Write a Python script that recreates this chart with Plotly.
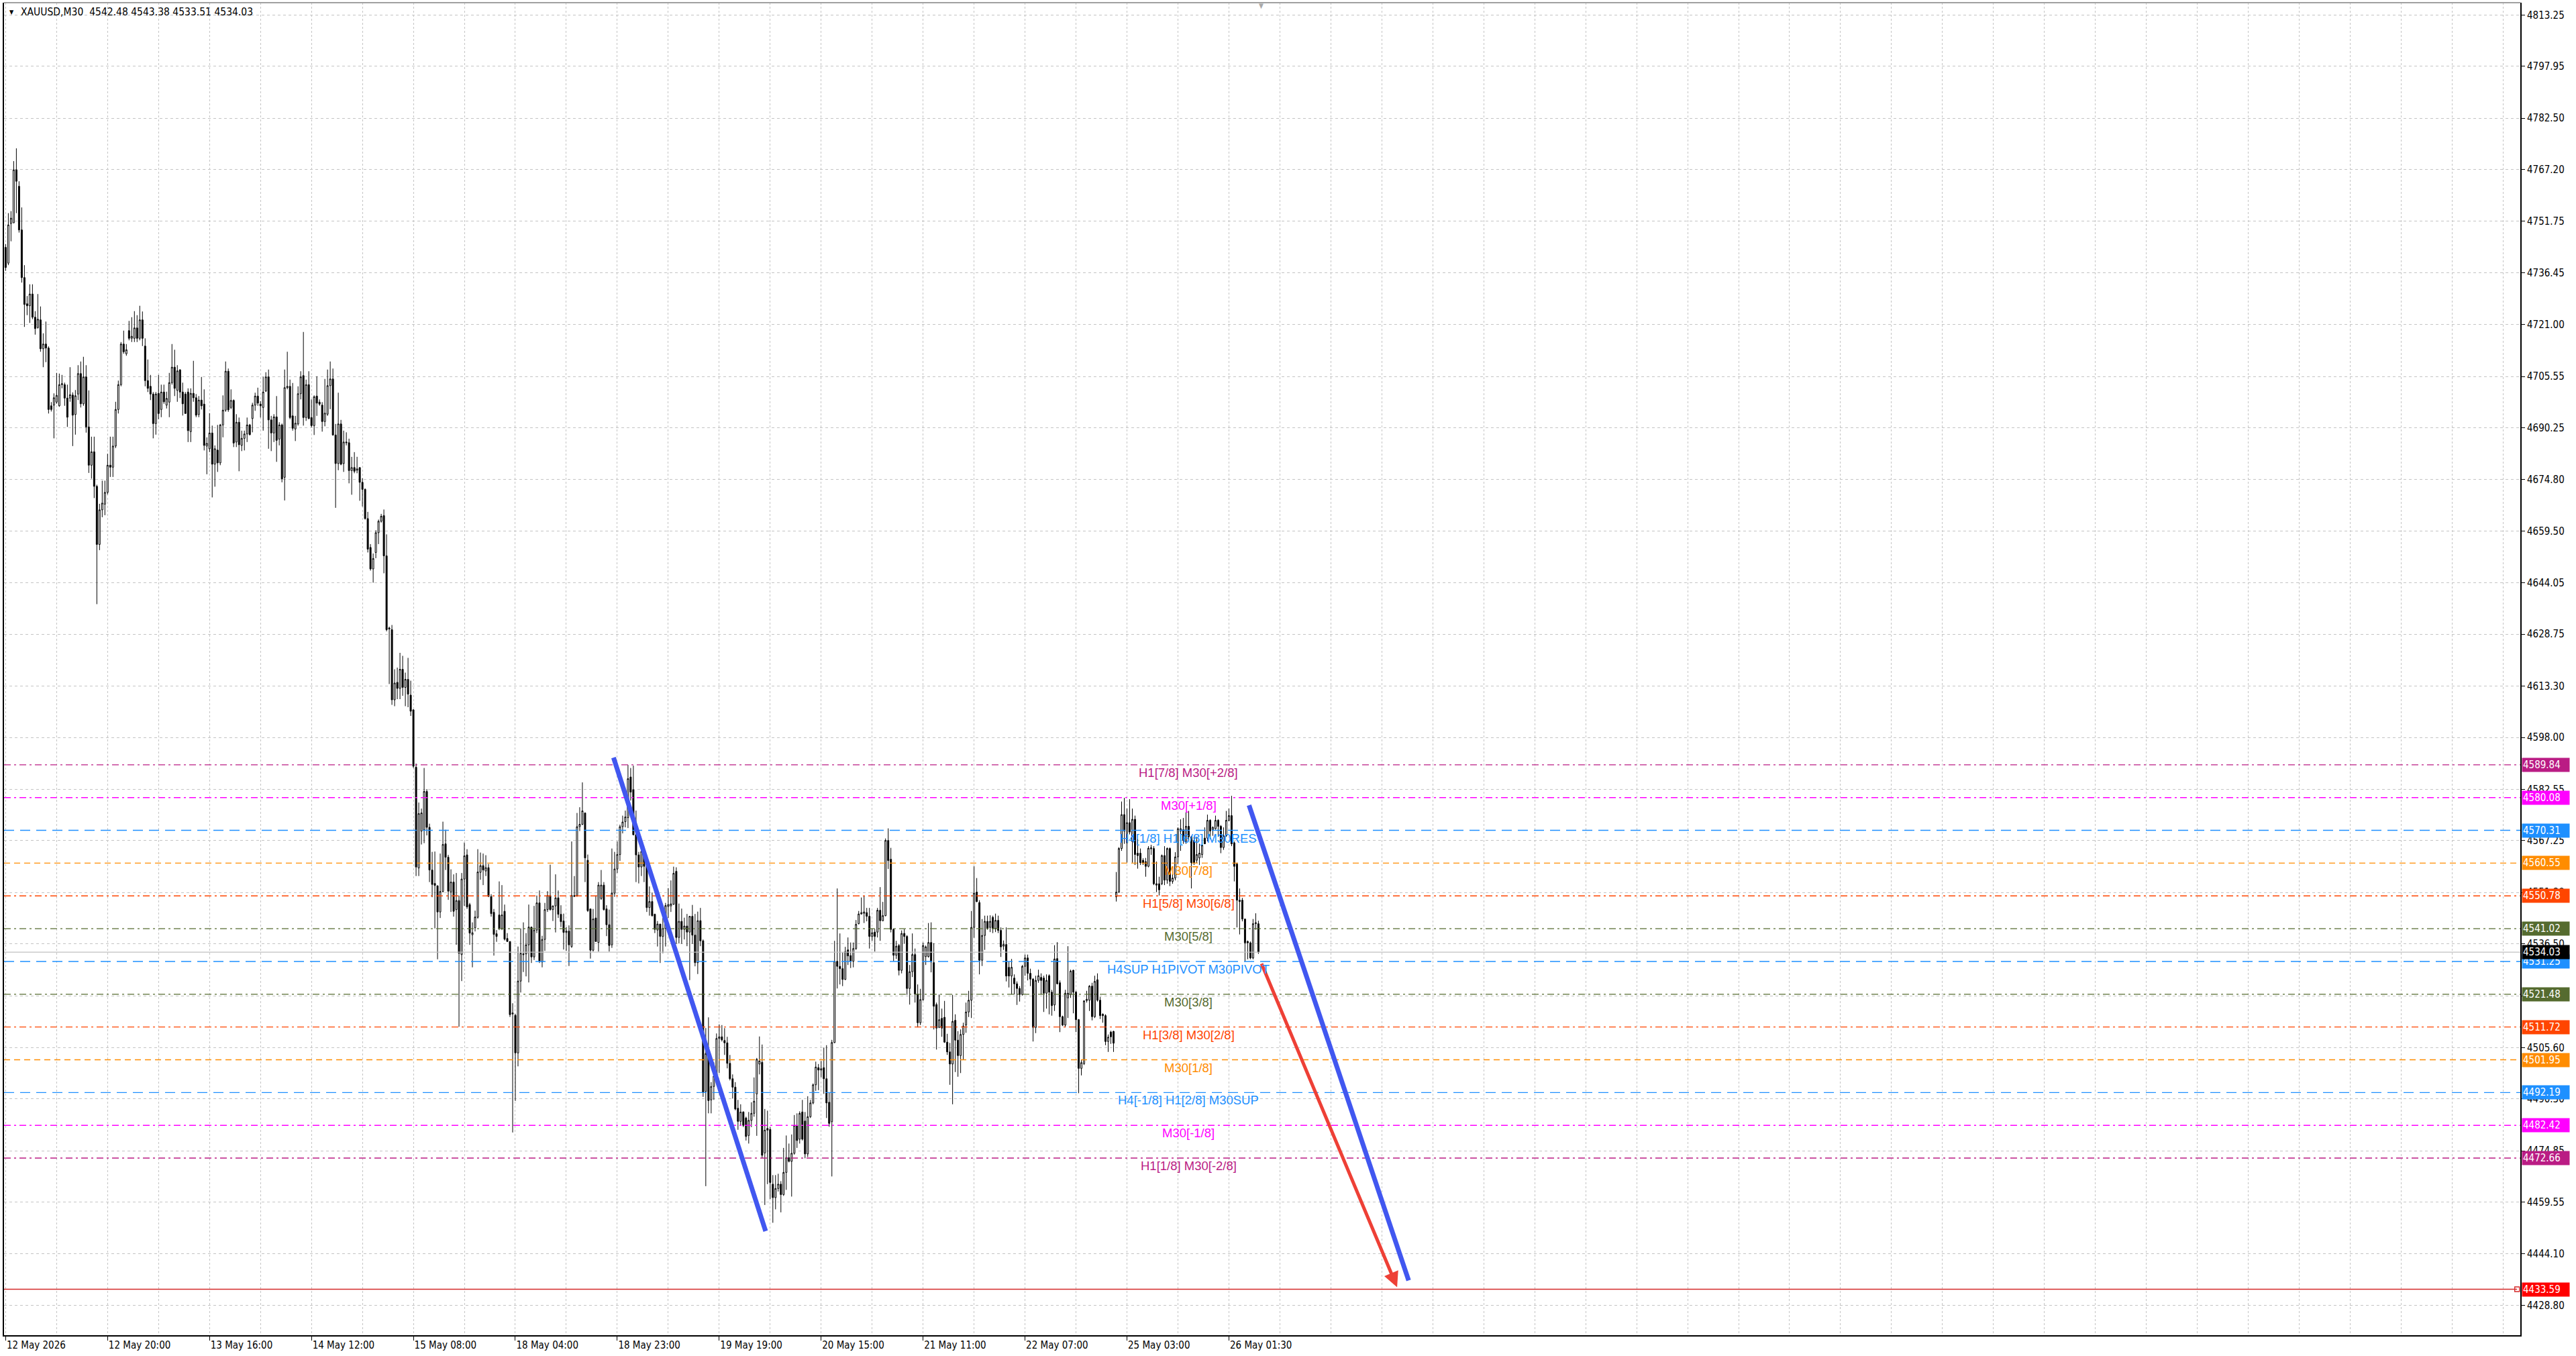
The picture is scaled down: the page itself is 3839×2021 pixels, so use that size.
import plotly.graph_objects as go

# =============================================================================
# DATA - XAUUSD M30 candles (bar index 0 = 12 May 2026 first bar)
# =============================================================================

opens = [
    4744.0, 4739.3, 4751.1, 4751.3, 4767.1, 4762.2, 4749.2, 4735.0, 4727.2, 4726.6,
    4730.1, 4723.2, 4720.1, 4722.4, 4713.8, 4715.2, 4714.0, 4696.8, 4697.0, 4697.9,
    4696.8, 4703.1, 4703.1, 4699.1, 4699.1, 4700.0, 4694.2, 4700.3, 4706.4, 4697.4,
    4705.4, 4690.5, 4679.1, 4683.1, 4672.8, 4655.5, 4665.8, 4667.5, 4671.0, 4679.1,
    4678.5, 4684.8, 4695.7, 4703.1, 4715.2, 4712.3, 4719.2, 4716.9, 4716.9, 4720.0,
    4716.9, 4722.4, 4714.6, 4704.3, 4702.6, 4700.3, 4691.5, 4700.5, 4695.7, 4700.9,
    4697.0, 4697.9, 4703.7, 4708.3, 4701.4, 4707.5, 4700.9, 4700.3, 4700.9, 4689.1,
    4700.5, 4699.2, 4694.2, 4698.5, 4697.3, 4684.8, 4684.0, 4688.7, 4679.4, 4683.6,
    4679.8, 4691.1, 4695.5, 4707.1, 4696.3, 4698.4, 4686.0, 4691.9, 4685.0, 4687.1,
    4688.4, 4691.1, 4693.0, 4697.0, 4699.7, 4697.3, 4696.3, 4701.2, 4705.4, 4692.6,
    4688.7, 4693.5, 4686.9, 4691.1, 4675.5, 4702.2, 4702.6, 4693.8, 4689.9, 4691.4,
    4700.4, 4705.8, 4693.3, 4703.1, 4693.3, 4690.9, 4699.7, 4697.9, 4697.0, 4692.1,
    4694.3, 4702.8, 4704.8, 4688.1, 4679.6, 4691.4, 4679.6, 4686.0, 4685.8, 4677.5,
    4678.4, 4677.6, 4678.4, 4674.0, 4671.9, 4663.2, 4654.6, 4648.2, 4653.1, 4659.0,
    4662.4, 4664.1, 4652.1, 4630.6, 4630.1, 4609.2, 4614.4, 4612.6, 4618.3, 4612.9,
    4615.3, 4610.6, 4606.2, 4589.1, 4559.1, 4570.1, 4570.5, 4581.9, 4571.2, 4558.5,
    4554.5, 4553.8, 4546.0, 4552.1, 4566.3, 4562.3, 4552.0, 4554.9, 4546.7, 4549.4,
    4533.3, 4555.8, 4563.0, 4548.2, 4539.2, 4541.3, 4544.4, 4557.8, 4559.8, 4558.2,
    4559.2, 4550.6, 4545.9, 4539.5, 4545.1, 4541.1, 4546.2, 4538.1, 4537.2, 4515.6,
    4515.2, 4504.0, 4525.4, 4533.5, 4533.5, 4536.2, 4541.5, 4532.6, 4540.6, 4548.7,
    4531.1, 4537.8, 4546.7, 4550.9, 4546.7, 4547.8, 4550.2, 4545.3, 4543.3, 4539.9,
    4540.3, 4535.7, 4550.6, 4550.9, 4571.4, 4572.1, 4575.5, 4561.4, 4546.9, 4534.6,
    4544.2, 4536.9, 4550.0, 4554.0, 4546.9, 4542.2, 4536.2, 4551.6, 4558.8, 4563.1,
    4571.4, 4572.9, 4574.1, 4586.2, 4582.4, 4569.0, 4563.0, 4559.4, 4563.8, 4559.6,
    4547.3, 4549.1, 4545.3, 4540.6, 4542.4, 4538.7, 4541.1, 4547.6, 4547.8, 4548.3,
    4558.1, 4538.4, 4543.2, 4540.8, 4541.8, 4540.0, 4544.7, 4539.1, 4530.9, 4543.4,
    4537.4, 4492.5, 4503.8, 4490.0, 4494.0, 4497.1, 4508.3, 4508.8, 4507.7, 4507.0,
    4500.9, 4496.3, 4493.8, 4487.5, 4483.6, 4486.4, 4484.6, 4479.4, 4483.9, 4486.0,
    4491.8, 4500.7, 4501.2, 4474.2, 4481.5, 4481.2, 4464.9, 4460.9, 4463.6, 4464.9,
    4461.8, 4468.4, 4472.8, 4471.7, 4474.1, 4482.4, 4478.3, 4486.4, 4483.7, 4473.9,
    4485.0, 4489.1, 4494.5, 4499.6, 4498.9, 4499.6, 4496.3, 4489.3, 4483.5, 4507.1,
    4531.3, 4529.8, 4529.1, 4525.9, 4534.7, 4533.0, 4531.3, 4535.1, 4542.5, 4545.4,
    4545.6, 4545.8, 4544.7, 4538.7, 4540.0, 4540.0, 4546.5, 4543.4, 4544.9, 4567.3,
    4561.7, 4540.8, 4533.1, 4536.0, 4528.6, 4539.6, 4538.7, 4523.2, 4528.2, 4533.3,
    4521.5, 4513.0, 4519.9, 4532.7, 4532.7, 4536.9, 4530.9, 4518.4, 4511.6, 4514.3,
    4514.6, 4507.2, 4504.3, 4500.7, 4513.7, 4507.8, 4503.2, 4509.5, 4512.3, 4516.2,
    4519.7, 4541.4, 4551.9, 4548.8, 4531.6, 4539.0, 4543.2, 4541.4, 4544.4, 4541.1,
    4543.5, 4540.5, 4535.8, 4536.3, 4529.5, 4526.9, 4526.3, 4524.6, 4523.2, 4521.4,
    4529.8, 4532.3, 4527.7, 4526.0, 4511.6, 4525.6, 4526.5, 4526.3, 4521.8, 4527.0,
    4522.1, 4518.3, 4532.1, 4524.9, 4514.8, 4512.3, 4520.4, 4521.4, 4528.6, 4522.1,
    4513.9, 4499.4, 4500.8, 4519.6, 4519.7, 4523.9, 4514.8, 4525.8, 4519.7, 4515.5,
    4515.1, 4507.4, 4510.2, 4510.4, 4550.5, 4551.9, 4564.9, 4575.0, 4566.6, 4572.6,
    4567.0, 4573.6, 4563.5, 4563.5, 4561.4, 4561.0, 4559.6, 4564.8, 4564.9, 4554.4,
    4554.4, 4554.4, 4562.8, 4555.5, 4564.9, 4555.1, 4556.1, 4562.4, 4570.1, 4570.5,
    4567.0, 4571.5, 4568.4, 4567.3, 4561.4, 4562.1, 4563.1, 4568.0, 4568.0, 4573.3,
    4570.5, 4570.8, 4573.3, 4571.5, 4565.2, 4568.7, 4573.3, 4574.7, 4566.6, 4560.3,
    4549.5, 4549.5, 4543.9, 4537.2, 4536.8, 4532.3, 4542.5, 4542.48,
]

highs = [
    4745.0, 4754.2, 4754.8, 4769.7, 4773.5, 4763.7, 4755.9, 4738.7, 4729.5, 4733.0,
    4733.0, 4725.0, 4730.1, 4726.4, 4718.4, 4721.9, 4714.5, 4697.9, 4700.5, 4706.6,
    4706.4, 4706.0, 4703.7, 4703.1, 4708.3, 4700.8, 4701.5, 4708.9, 4710.0, 4711.4,
    4708.9, 4701.4, 4687.6, 4687.6, 4673.3, 4667.6, 4674.5, 4674.5, 4682.5, 4687.6,
    4687.6, 4698.0, 4704.3, 4715.8, 4719.2, 4715.2, 4722.1, 4723.2, 4725.0, 4723.8,
    4726.6, 4724.9, 4716.9, 4710.6, 4706.0, 4700.9, 4700.9, 4706.0, 4703.1, 4703.1,
    4701.0, 4706.6, 4715.2, 4713.5, 4708.9, 4707.7, 4703.7, 4700.9, 4702.0, 4702.0,
    4710.2, 4700.3, 4699.7, 4705.4, 4701.7, 4687.4, 4694.6, 4690.9, 4685.0, 4691.1,
    4691.4, 4699.9, 4710.0, 4707.9, 4701.7, 4698.7, 4694.3, 4693.3, 4689.4, 4689.4,
    4693.3, 4691.4, 4697.7, 4700.7, 4702.2, 4698.2, 4705.4, 4706.8, 4707.6, 4693.8,
    4694.3, 4699.7, 4691.9, 4691.5, 4707.6, 4712.9, 4704.6, 4703.6, 4693.8, 4702.6,
    4707.1, 4718.8, 4704.6, 4707.1, 4698.7, 4699.9, 4705.6, 4698.7, 4697.9, 4704.8,
    4707.6, 4710.0, 4707.9, 4691.4, 4700.7, 4692.6, 4689.4, 4688.9, 4687.0, 4681.6,
    4683.0, 4681.6, 4678.4, 4675.2, 4672.2, 4665.2, 4655.6, 4652.8, 4659.7, 4662.9,
    4664.6, 4665.9, 4658.5, 4631.0, 4631.5, 4618.3, 4618.8, 4623.2, 4622.3, 4617.3,
    4621.7, 4614.9, 4606.4, 4590.2, 4578.6, 4576.8, 4588.9, 4582.6, 4572.3, 4563.9,
    4564.0, 4553.9, 4563.4, 4572.9, 4570.5, 4563.0, 4558.7, 4557.2, 4557.6, 4550.9,
    4557.6, 4566.7, 4564.7, 4548.7, 4542.9, 4546.4, 4564.7, 4563.7, 4563.4, 4562.9,
    4560.3, 4551.3, 4546.9, 4540.6, 4555.1, 4554.0, 4548.2, 4539.7, 4537.2, 4518.8,
    4515.6, 4535.7, 4541.1, 4542.9, 4539.7, 4548.2, 4541.5, 4547.8, 4550.9, 4552.4,
    4538.9, 4548.7, 4552.2, 4560.1, 4547.9, 4557.2, 4552.4, 4548.0, 4545.5, 4541.5,
    4542.0, 4567.0, 4556.7, 4575.5, 4577.2, 4584.6, 4575.5, 4563.1, 4546.9, 4546.9,
    4550.9, 4554.9, 4558.5, 4554.9, 4548.0, 4546.7, 4564.9, 4563.9, 4567.0, 4572.0,
    4574.7, 4576.2, 4589.8, 4588.9, 4589.6, 4576.2, 4563.9, 4566.1, 4564.7, 4560.3,
    4553.6, 4551.8, 4545.5, 4543.3, 4542.4, 4544.2, 4548.7, 4553.1, 4555.4, 4559.5,
    4559.3, 4548.5, 4547.0, 4544.3, 4545.4, 4544.7, 4548.1, 4545.4, 4546.1, 4547.2,
    4537.8, 4511.4, 4514.6, 4495.3, 4501.2, 4509.8, 4512.5, 4512.3, 4511.4, 4508.8,
    4503.4, 4497.6, 4495.3, 4490.0, 4488.7, 4486.6, 4485.0, 4486.4, 4489.3, 4496.7,
    4502.5, 4508.9, 4506.5, 4487.3, 4486.8, 4481.9, 4467.6, 4467.6, 4468.0, 4465.8,
    4475.7, 4479.4, 4477.0, 4479.7, 4485.5, 4486.0, 4486.6, 4490.0, 4486.4, 4491.1,
    4490.0, 4494.9, 4501.4, 4500.7, 4501.6, 4505.6, 4506.3, 4492.2, 4507.9, 4537.4,
    4553.0, 4539.6, 4533.9, 4535.6, 4538.4, 4536.9, 4536.9, 4543.6, 4546.3, 4550.3,
    4550.8, 4547.2, 4547.2, 4541.1, 4540.9, 4547.2, 4553.4, 4549.0, 4567.9, 4570.9,
    4565.1, 4541.1, 4537.4, 4536.5, 4540.5, 4540.9, 4539.1, 4530.2, 4539.6, 4535.1,
    4524.4, 4523.1, 4536.9, 4536.0, 4542.7, 4542.9, 4536.7, 4519.0, 4521.4, 4517.2,
    4519.5, 4509.7, 4507.0, 4521.3, 4515.5, 4510.5, 4511.0, 4513.0, 4519.0, 4522.5,
    4546.3, 4559.6, 4556.1, 4549.5, 4543.9, 4544.9, 4544.9, 4545.0, 4544.9, 4545.5,
    4544.9, 4541.4, 4537.5, 4541.4, 4531.2, 4532.0, 4527.4, 4525.3, 4523.9, 4530.2,
    4533.3, 4533.3, 4529.1, 4526.3, 4527.0, 4528.8, 4527.7, 4527.0, 4527.4, 4527.4,
    4522.8, 4536.1, 4537.0, 4525.6, 4515.1, 4522.8, 4535.8, 4528.8, 4528.8, 4522.5,
    4514.1, 4501.9, 4519.7, 4522.5, 4524.2, 4524.9, 4527.0, 4527.7, 4520.7, 4515.8,
    4515.5, 4509.5, 4510.6, 4510.6, 4557.9, 4565.3, 4578.9, 4580.0, 4576.8, 4579.6,
    4576.8, 4574.7, 4567.7, 4564.9, 4562.0, 4562.1, 4565.6, 4566.0, 4565.6, 4561.0,
    4556.5, 4563.1, 4565.6, 4565.2, 4565.2, 4557.2, 4563.8, 4571.2, 4573.6, 4574.0,
    4575.7, 4576.1, 4568.7, 4568.4, 4568.4, 4566.3, 4567.7, 4571.2, 4575.0, 4573.6,
    4571.5, 4574.7, 4573.6, 4571.9, 4571.2, 4576.1, 4576.8, 4580.6, 4567.0, 4560.7,
    4553.0, 4550.2, 4543.9, 4537.5, 4537.2, 4543.9, 4545.6, 4543.38,
]

lows = [
    4737.0, 4738.7, 4745.8, 4751.3, 4754.2, 4748.4, 4733.5, 4720.3, 4723.8, 4721.5,
    4722.6, 4718.0, 4719.8, 4712.9, 4708.3, 4709.8, 4694.5, 4695.1, 4687.1, 4697.4,
    4696.5, 4702.0, 4696.8, 4690.5, 4698.0, 4684.8, 4688.2, 4698.5, 4696.3, 4696.8,
    4688.8, 4676.8, 4675.1, 4669.3, 4637.7, 4653.8, 4663.6, 4664.2, 4670.4, 4675.6,
    4675.6, 4684.2, 4694.5, 4702.6, 4712.3, 4711.7, 4716.3, 4715.8, 4715.8, 4715.8,
    4716.3, 4714.6, 4702.6, 4700.9, 4698.5, 4687.1, 4688.2, 4692.8, 4693.4, 4697.4,
    4696.0, 4693.4, 4703.1, 4699.7, 4698.0, 4699.1, 4693.9, 4694.5, 4686.0, 4686.0,
    4698.0, 4693.4, 4693.4, 4695.7, 4683.5, 4676.4, 4683.0, 4669.5, 4672.7, 4677.1,
    4679.1, 4687.4, 4695.0, 4695.0, 4695.8, 4684.5, 4684.5, 4677.3, 4683.3, 4683.5,
    4686.0, 4688.0, 4688.9, 4695.3, 4696.8, 4693.3, 4689.4, 4700.9, 4684.0, 4683.3,
    4686.0, 4680.1, 4685.0, 4674.0, 4668.6, 4701.7, 4692.8, 4689.4, 4686.3, 4690.9,
    4698.7, 4690.9, 4692.3, 4692.8, 4690.4, 4688.1, 4693.8, 4696.8, 4689.1, 4690.7,
    4693.8, 4695.8, 4687.9, 4666.4, 4677.6, 4679.1, 4677.1, 4685.0, 4673.7, 4670.3,
    4676.7, 4676.7, 4668.5, 4666.8, 4662.9, 4653.1, 4647.7, 4644.1, 4651.4, 4655.6,
    4662.0, 4646.9, 4629.6, 4613.9, 4607.7, 4607.3, 4609.4, 4609.4, 4610.4, 4607.3,
    4607.0, 4604.4, 4588.9, 4556.7, 4556.7, 4566.1, 4566.5, 4568.8, 4554.9, 4550.4,
    4541.1, 4531.9, 4544.2, 4551.8, 4558.5, 4549.6, 4546.0, 4544.6, 4536.2, 4511.8,
    4525.4, 4547.8, 4546.9, 4536.2, 4529.5, 4540.2, 4544.0, 4555.6, 4554.0, 4556.7,
    4550.5, 4544.6, 4533.0, 4537.1, 4540.6, 4540.6, 4537.5, 4537.1, 4514.7, 4480.3,
    4489.7, 4500.0, 4522.0, 4528.1, 4526.8, 4525.0, 4530.8, 4531.7, 4539.7, 4530.8,
    4529.5, 4534.4, 4546.0, 4546.4, 4543.3, 4539.9, 4544.2, 4541.5, 4534.8, 4534.4,
    4529.9, 4535.3, 4550.5, 4550.5, 4570.1, 4571.9, 4554.9, 4546.0, 4532.1, 4534.2,
    4537.1, 4534.2, 4549.6, 4546.4, 4538.8, 4534.2, 4535.3, 4550.5, 4557.6, 4561.2,
    4569.4, 4571.2, 4571.0, 4579.2, 4568.8, 4554.9, 4554.5, 4556.7, 4554.9, 4546.0,
    4544.9, 4544.6, 4539.7, 4535.7, 4530.8, 4533.7, 4535.7, 4544.2, 4546.0, 4548.1,
    4536.5, 4536.6, 4536.5, 4537.8, 4535.8, 4525.7, 4536.5, 4529.8, 4527.5, 4535.8,
    4490.9, 4464.3, 4486.0, 4486.0, 4490.0, 4496.7, 4498.0, 4507.4, 4503.4, 4499.4,
    4495.8, 4490.4, 4486.9, 4481.1, 4482.4, 4481.9, 4477.9, 4477.0, 4481.9, 4485.0,
    4479.3, 4497.6, 4472.6, 4458.7, 4464.9, 4460.5, 4453.4, 4457.4, 4462.7, 4456.5,
    4461.4, 4463.2, 4471.4, 4461.2, 4473.7, 4475.7, 4477.0, 4477.9, 4472.6, 4473.0,
    4484.6, 4488.7, 4492.7, 4492.9, 4496.7, 4491.8, 4484.6, 4482.0, 4467.2, 4506.9,
    4523.2, 4524.4, 4523.9, 4525.7, 4530.2, 4529.3, 4529.5, 4534.7, 4542.3, 4545.2,
    4542.7, 4543.2, 4535.1, 4537.4, 4534.2, 4538.4, 4537.4, 4543.2, 4544.7, 4558.8,
    4539.9, 4531.3, 4532.0, 4527.1, 4527.7, 4536.5, 4521.3, 4518.4, 4526.6, 4519.0,
    4511.6, 4512.3, 4519.5, 4530.2, 4532.4, 4528.0, 4511.0, 4505.0, 4511.4, 4508.8,
    4507.0, 4503.4, 4494.5, 4488.7, 4498.3, 4496.9, 4498.0, 4502.0, 4510.0, 4514.7,
    4514.4, 4538.3, 4548.9, 4527.4, 4529.9, 4534.7, 4540.7, 4540.0, 4539.7, 4540.0,
    4539.7, 4532.6, 4534.7, 4525.3, 4523.5, 4521.4, 4521.4, 4518.3, 4519.3, 4521.1,
    4527.0, 4525.6, 4523.9, 4507.4, 4509.9, 4524.9, 4521.4, 4516.2, 4517.2, 4515.5,
    4515.1, 4516.5, 4524.4, 4510.2, 4512.0, 4511.6, 4514.4, 4520.4, 4515.8, 4510.2,
    4492.0, 4497.3, 4500.4, 4519.0, 4516.5, 4513.7, 4514.4, 4519.3, 4514.1, 4513.0,
    4506.3, 4504.3, 4506.7, 4504.3, 4549.1, 4551.7, 4564.2, 4566.3, 4560.7, 4569.1,
    4560.7, 4560.0, 4558.9, 4560.0, 4560.0, 4556.5, 4559.3, 4563.0, 4554.0, 4551.9,
    4550.9, 4554.0, 4554.0, 4554.4, 4553.7, 4554.4, 4555.4, 4560.3, 4564.2, 4566.3,
    4566.3, 4567.3, 4553.0, 4560.0, 4560.5, 4560.0, 4562.1, 4566.3, 4567.0, 4567.7,
    4568.7, 4570.5, 4568.4, 4563.5, 4564.5, 4568.4, 4573.0, 4565.6, 4555.1, 4541.4,
    4539.3, 4543.2, 4531.2, 4531.9, 4531.9, 4531.9, 4540.7, 4533.51,
]

closes = [
    4738.0, 4750.7, 4752.7, 4767.1, 4763.7, 4749.2, 4735.0, 4727.0, 4726.6, 4730.1,
    4723.2, 4719.8, 4722.6, 4713.8, 4715.2, 4714.0, 4695.7, 4695.7, 4699.2, 4699.9,
    4703.1, 4703.4, 4699.1, 4693.4, 4700.1, 4694.0, 4699.8, 4706.4, 4697.4, 4705.4,
    4690.5, 4679.1, 4683.1, 4672.8, 4655.5, 4665.8, 4667.8, 4671.0, 4679.1, 4678.5,
    4684.8, 4695.7, 4703.1, 4715.2, 4712.9, 4713.5, 4716.9, 4717.5, 4720.0, 4716.9,
    4722.4, 4716.9, 4704.3, 4702.0, 4700.3, 4691.5, 4700.3, 4694.5, 4700.9, 4698.0,
    4699.0, 4703.7, 4708.3, 4702.0, 4707.2, 4700.9, 4697.4, 4694.5, 4689.4, 4700.5,
    4699.2, 4694.0, 4698.5, 4696.8, 4685.0, 4685.6, 4688.7, 4679.4, 4684.0, 4679.8,
    4691.1, 4695.5, 4707.1, 4695.6, 4698.4, 4685.7, 4691.9, 4685.2, 4687.1, 4688.4,
    4691.1, 4688.2, 4697.0, 4699.7, 4697.6, 4696.8, 4700.9, 4705.4, 4692.6, 4688.7,
    4693.5, 4686.5, 4691.1, 4675.0, 4702.2, 4702.6, 4693.3, 4690.1, 4691.6, 4700.4,
    4705.4, 4693.3, 4703.1, 4693.0, 4690.9, 4699.5, 4697.6, 4697.3, 4692.1, 4694.6,
    4702.8, 4704.8, 4688.1, 4679.6, 4691.4, 4679.4, 4686.0, 4685.8, 4677.5, 4678.4,
    4677.3, 4678.0, 4674.0, 4671.9, 4663.2, 4654.1, 4648.2, 4651.3, 4659.0, 4662.4,
    4663.9, 4652.1, 4630.1, 4630.3, 4609.2, 4614.2, 4612.6, 4618.3, 4612.9, 4615.3,
    4610.9, 4605.8, 4589.4, 4559.4, 4575.3, 4575.5, 4581.9, 4571.2, 4558.5, 4554.2,
    4553.9, 4546.0, 4552.1, 4566.1, 4562.3, 4552.2, 4554.9, 4546.2, 4549.4, 4533.7,
    4555.8, 4562.7, 4547.5, 4539.7, 4539.8, 4544.5, 4557.9, 4559.8, 4558.5, 4559.2,
    4550.6, 4545.5, 4539.3, 4538.7, 4541.1, 4545.1, 4537.9, 4537.2, 4515.4, 4515.9,
    4504.0, 4525.4, 4533.7, 4533.3, 4536.2, 4541.5, 4532.6, 4540.6, 4548.7, 4531.3,
    4537.8, 4546.7, 4550.9, 4546.7, 4547.8, 4550.2, 4545.3, 4543.1, 4539.9, 4540.3,
    4536.2, 4550.9, 4550.9, 4571.4, 4572.1, 4576.1, 4562.1, 4546.4, 4534.6, 4543.9,
    4537.2, 4554.0, 4554.0, 4546.7, 4542.2, 4536.0, 4551.6, 4558.8, 4563.1, 4571.4,
    4572.8, 4574.3, 4585.7, 4581.7, 4569.0, 4563.0, 4559.4, 4564.0, 4559.6, 4547.3,
    4549.1, 4544.9, 4540.8, 4542.4, 4538.7, 4541.1, 4547.9, 4548.2, 4548.4, 4557.5,
    4538.4, 4543.2, 4540.8, 4541.8, 4540.0, 4544.7, 4539.1, 4530.9, 4543.4, 4537.4,
    4492.2, 4503.8, 4489.8, 4494.0, 4497.1, 4508.3, 4508.8, 4507.9, 4507.0, 4500.9,
    4496.3, 4493.8, 4487.3, 4483.6, 4486.4, 4482.4, 4479.1, 4483.9, 4486.0, 4489.6,
    4502.1, 4501.6, 4473.5, 4481.0, 4481.0, 4465.4, 4460.9, 4463.6, 4464.9, 4461.8,
    4468.4, 4472.8, 4471.7, 4474.1, 4482.4, 4477.9, 4486.0, 4478.3, 4473.9, 4485.0,
    4489.1, 4494.5, 4499.8, 4498.9, 4499.3, 4496.3, 4489.1, 4483.0, 4507.1, 4531.3,
    4529.8, 4529.1, 4525.9, 4534.2, 4532.9, 4531.3, 4535.1, 4542.3, 4545.4, 4545.8,
    4546.0, 4544.7, 4538.7, 4539.8, 4538.7, 4546.5, 4543.4, 4544.9, 4567.3, 4561.3,
    4540.8, 4533.1, 4535.8, 4528.6, 4539.6, 4538.7, 4523.2, 4528.2, 4533.3, 4521.5,
    4513.0, 4519.9, 4536.0, 4535.6, 4536.9, 4531.1, 4517.9, 4511.4, 4513.9, 4511.4,
    4507.2, 4504.3, 4500.7, 4513.4, 4507.8, 4503.2, 4509.5, 4512.0, 4516.2, 4519.7,
    4541.4, 4551.6, 4549.1, 4531.6, 4539.0, 4543.2, 4541.1, 4543.2, 4541.1, 4543.5,
    4540.5, 4535.6, 4536.3, 4526.9, 4526.9, 4529.5, 4524.6, 4523.2, 4521.4, 4529.8,
    4532.3, 4527.7, 4526.0, 4511.6, 4525.6, 4527.0, 4525.6, 4521.8, 4525.6, 4522.1,
    4518.1, 4532.0, 4524.6, 4514.8, 4512.3, 4521.8, 4521.8, 4528.4, 4522.1, 4513.9,
    4499.4, 4501.1, 4519.5, 4520.0, 4523.9, 4514.8, 4525.3, 4519.7, 4515.1, 4515.1,
    4507.4, 4508.7, 4508.8, 4506.9, 4551.9, 4564.9, 4575.0, 4570.1, 4572.6, 4569.8,
    4573.6, 4563.1, 4562.8, 4560.7, 4560.7, 4559.6, 4565.0, 4565.1, 4554.4, 4554.0,
    4552.6, 4562.8, 4555.5, 4564.9, 4555.1, 4556.1, 4562.4, 4570.8, 4570.8, 4567.3,
    4571.5, 4568.4, 4560.7, 4560.7, 4563.1, 4563.5, 4565.9, 4566.3, 4573.3, 4570.1,
    4571.2, 4573.3, 4571.5, 4565.2, 4568.7, 4573.3, 4574.7, 4566.3, 4559.6, 4549.5,
    4549.1, 4543.9, 4536.8, 4536.8, 4532.3, 4542.5, 4542.8, 4534.03,
]

# time axis labels (one every 38 bars)
time_labels = [
    "12 May 2026", "12 May 20:00", "13 May 16:00", "14 May 12:00", "15 May 08:00",
    "18 May 04:00", "18 May 23:00", "19 May 19:00", "20 May 15:00", "21 May 11:00",
    "22 May 07:00", "25 May 03:00", "26 May 01:30",
]

# price scale labels
price_ticks = [
    4813.25, 4797.95, 4782.50, 4767.20, 4751.75, 4736.45, 4721.00, 4705.55,
    4690.25, 4674.80, 4659.50, 4644.05, 4628.75, 4613.30, 4598.00, 4582.55,
    4567.25, 4551.80, 4536.50, 4521.05, 4505.60, 4490.30, 4474.85, 4459.55,
    4444.10, 4428.80,
]

# Murrey-style levels
level_prices = [4589.84, 4580.08, 4570.31, 4560.55, 4550.78, 4541.02, 4531.25,
                4521.48, 4511.72, 4501.95, 4492.19, 4482.42, 4472.66]
level_names = ["H1[7/8] M30[+2/8]", "M30[+1/8]", "H4[1/8] H1[6/8] M30RES",
               "M30[7/8]", "H1[5/8] M30[6/8]", "M30[5/8]", "H4SUP H1PIVOT M30PIVOT",
               "M30[3/8]", "H1[3/8] M30[2/8]", "M30[1/8]", "H4[-1/8] H1[2/8] M30SUP",
               "M30[-1/8]", "H1[1/8] M30[-2/8]"]

bid_price = 4534.03
alert_price = 4433.59

# hand-drawn trend lines (bar index, price)
blue_line_1 = [(226.6, 4592.0), (283.3, 4450.9)]
blue_line_2 = [(463.5, 4577.8), (523.0, 4436.2)]
red_arrow = [(468.0, 4530.9), (518.7, 4434.2)]

# =============================================================================
# STYLE
# =============================================================================

PURPLE = "#BA1C84"
MAGENTA = "#FF00FF"
BLUE = "#1E90FF"
ORANGE = "#FF8C00"
ORANGERED = "#FF4500"
OLIVE = "#556B2F"

level_colors = [PURPLE, MAGENTA, BLUE, ORANGE, ORANGERED, OLIVE, BLUE,
                OLIVE, ORANGERED, ORANGE, BLUE, MAGENTA, PURPLE]
DASHDOT = "10px,5px,3px,5px"
DASH = "9px,6px"
LONGDASH = "15px,9px"
level_dash = [DASHDOT, DASHDOT, LONGDASH, DASH, DASHDOT, DASHDOT, LONGDASH,
              DASHDOT, DASHDOT, DASH, LONGDASH, DASHDOT, DASHDOT]

X_MIN, X_MAX = -0.6, 937.4
Y_MIN, Y_MAX = 4419.9, 4816.9
LABEL_BAR = 441
GRID = "#C4C4C4"
AXIS_FONT = "DejaVu Sans Condensed, DejaVu Sans, sans-serif"

bars = list(range(len(closes)))

# =============================================================================
# FIGURE
# =============================================================================

fig = go.Figure()

# level lines (behind the candles)
for price, color, dash in zip(level_prices, level_colors, level_dash):
    fig.add_trace(go.Scatter(
        x=[X_MIN, X_MAX], y=[price, price], mode="lines",
        line=dict(color=color, width=1.4, dash=dash),
        hoverinfo="skip", showlegend=False,
    ))

fig.add_trace(go.Scatter(
    x=[X_MIN, X_MAX], y=[bid_price, bid_price], mode="lines",
    line=dict(color="#C0C0C0", width=1.2), hoverinfo="skip", showlegend=False,
))
fig.add_trace(go.Scatter(
    x=[X_MIN, X_MAX - 1.2], y=[alert_price, alert_price], mode="lines",
    line=dict(color="#D42A2A", width=1.4), hoverinfo="skip", showlegend=False,
))
fig.add_trace(go.Scatter(
    x=[X_MAX - 1.2], y=[alert_price], mode="markers",
    marker=dict(symbol="square-open", size=7, color="#D42A2A", line=dict(width=1.4)),
    hoverinfo="skip", showlegend=False,
))

# candles
fig.add_trace(go.Candlestick(
    x=bars, open=opens, high=highs, low=lows, close=closes,
    increasing=dict(line=dict(color="black", width=1), fillcolor="white"),
    decreasing=dict(line=dict(color="black", width=1), fillcolor="black"),
    whiskerwidth=0, showlegend=False, hoverinfo="skip",
))

# blue trend lines
for line in (blue_line_1, blue_line_2):
    fig.add_trace(go.Scatter(
        x=[p[0] for p in line], y=[p[1] for p in line], mode="lines",
        line=dict(color="#4157F0", width=7), hoverinfo="skip", showlegend=False,
    ))

annotations = []

# red arrow
annotations.append(dict(
    x=red_arrow[1][0], y=red_arrow[1][1], ax=red_arrow[0][0], ay=red_arrow[0][1],
    xref="x", yref="y", axref="x", ayref="y", text="", showarrow=True,
    arrowhead=2, arrowsize=0.9, arrowwidth=5, arrowcolor="#EE4036", standoff=0,
))

# level texts
for price, name, color in zip(level_prices, level_names, level_colors):
    annotations.append(dict(
        x=LABEL_BAR, y=price, xref="x", yref="y", text=name, showarrow=False,
        xanchor="center", yanchor="top", yshift=1,
        font=dict(family="Liberation Sans, Arial, sans-serif", size=18.5, color=color),
    ))

# price boxes on the right scale
box_prices = level_prices + [bid_price, alert_price]
box_colors = level_colors + ["#000000", "#FF0000"]
for price, color in zip(box_prices, box_colors):
    annotations.append(dict(
        x=1, y=price, xref="paper", yref="y", text=f"{price:.2f}", showarrow=False,
        xanchor="left", yanchor="middle", xshift=2, bgcolor=color, borderpad=1,
        width=68, align="left",
        font=dict(family=AXIS_FONT, size=15, color="white"),
    ))

# chart header
annotations.append(dict(
    x=0, y=1, xref="paper", yref="paper", text="▼", showarrow=False,
    xanchor="left", yanchor="top", xshift=6, yshift=-7,
    font=dict(family=AXIS_FONT, size=9, color="black"),
))
annotations.append(dict(
    x=0, y=1, xref="paper", yref="paper",
    text="XAUUSD,M30  4542.48 4543.38 4533.51 4534.03", showarrow=False,
    xanchor="left", yanchor="top", xshift=23, yshift=-3,
    font=dict(family=AXIS_FONT, size=15.5, color="black"),
))
# chart shift marker
annotations.append(dict(
    x=len(closes), y=1, xref="x", yref="paper", text="▼", showarrow=False,
    xanchor="center", yanchor="top", yshift=3,
    font=dict(family=AXIS_FONT, size=10, color="#A8A8A8"),
))

fig.update_layout(
    width=3839, height=2021, autosize=False,
    margin=dict(l=4, r=83, t=4, b=31, pad=0),
    paper_bgcolor="white", plot_bgcolor="white",
    font=dict(family=AXIS_FONT, size=15, color="black"),
    showlegend=False,
    annotations=annotations,
    xaxis=dict(
        range=[X_MIN, X_MAX], rangeslider=dict(visible=False),
        tickmode="array", tickvals=[i * 38 for i in range(len(time_labels))],
        ticktext=time_labels, ticklabelposition="outside right",
        ticks="outside", ticklen=6, tickcolor="black",
        showgrid=True, gridcolor=GRID, griddash="3px,3px", gridwidth=1,
        minor=dict(tickmode="linear", tick0=0, dtick=19, showgrid=True,
                   gridcolor=GRID, griddash="3px,3px", gridwidth=1),
        showline=True, linecolor="black", linewidth=2, zeroline=False,
        tickfont=dict(family=AXIS_FONT, size=15),
    ),
    yaxis=dict(
        range=[Y_MIN, Y_MAX], side="right",
        tickmode="array", tickvals=price_ticks,
        ticktext=[f"{p:.2f}" for p in price_ticks],
        ticks="outside", ticklen=5, tickcolor="black",
        showgrid=True, gridcolor=GRID, griddash="4px,4px", gridwidth=1,
        showline=True, linecolor="black", linewidth=2, mirror=True, zeroline=False,
        tickfont=dict(family=AXIS_FONT, size=15),
    ),
    shapes=[dict(type="line", xref="paper", yref="paper", x0=0, x1=1, y0=1, y1=1,
                 line=dict(color="#A0A0A0", width=2))],
)

fig.write_html(
    "out.html",
    config={"displayModeBar": False},
    post_script="document.body.style.margin='0';document.body.style.overflow='hidden';",
)
